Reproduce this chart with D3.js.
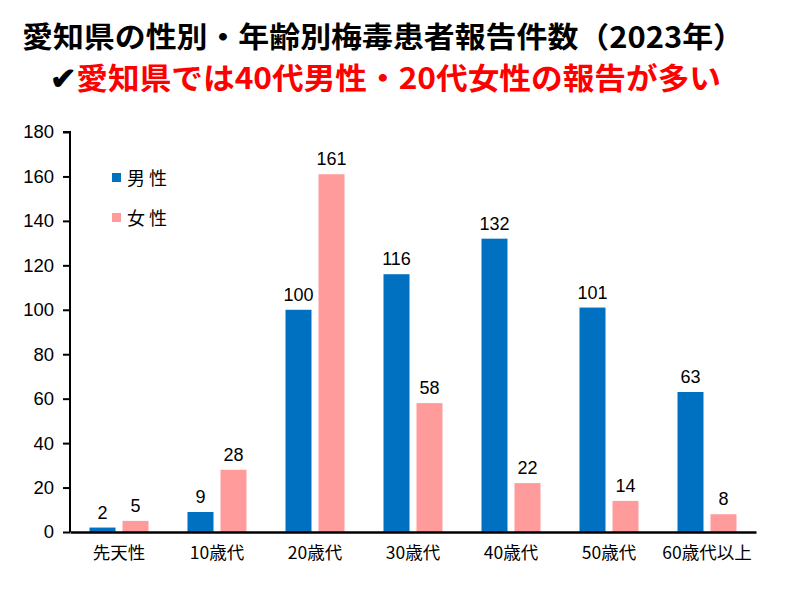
<!DOCTYPE html>
<html><head><meta charset="utf-8">
<script src="https://cdn.jsdelivr.net/npm/d3@7"></script>
<style>body{margin:0;background:#fff}svg{display:block}</style>
</head><body>
<svg id="c" width="791" height="589"></svg>
<script>
const categories = ["先天性","10歳代","20歳代","30歳代","40歳代","50歳代","60歳代以上"];
const male = [2,9,100,116,132,101,63];
const female = [5,28,161,58,22,14,8];
const seriesNames = ["男性","女性"];
const yTicks = [0,20,40,60,80,100,120,140,160,180];

const svg = d3.select("#c");
const font = "'Noto Sans CJK JP', sans-serif";
const numFont = "'Liberation Sans', Arial, sans-serif";
const colors = ["#0070C0","#FF9B9B"];

svg.append("text").attr("x",22).attr("y",48).attr("font-family",font).attr("font-weight","bold")
  .attr("font-size",29).attr("textLength",722).attr("lengthAdjust","spacingAndGlyphs")
  .text("愛知県の性別・年齢別梅毒患者報告件数（2023年）");
const sub = svg.append("text").attr("x",50).attr("y",89).attr("font-family",font).attr("font-weight","bold")
  .attr("font-size",30);
sub.append("tspan").attr("fill","#000").text("✔");
sub.append("tspan").attr("fill","#FF0000").text("愛知県では40代男性・20代女性の報告が多い");
sub.attr("textLength",671).attr("lengthAdjust","spacingAndGlyphs");

const x0 = 70, x1 = 756, yTop = 132, yBot = 532;
const x = d3.scaleBand().domain(categories).range([x0,x1]).paddingInner(0).paddingOuter(0);
const y = d3.scaleLinear().domain([0,180]).range([yBot,yTop]);
const bw = 26, gap = 7;

const g = svg.append("g");
const data = categories.map((c,i)=>({c, v:[male[i],female[i]]}));
data.forEach(d=>{
  d.v.forEach((v,j)=>{
    const cx = x(d.c)+x.bandwidth()/2;
    const bx = j===0 ? cx-gap/2-bw : cx+gap/2;
    g.append("rect").attr("x",bx).attr("y",y(v)).attr("width",bw).attr("height",yBot-y(v)).attr("fill",colors[j]);
    g.append("text").attr("x",bx+bw/2).attr("y",y(v)-9).attr("text-anchor","middle")
      .attr("font-family",numFont).attr("font-size",18).text(v);
  });
});

const ya = svg.append("g").attr("transform",`translate(${x0},0)`)
  .call(d3.axisLeft(y).tickValues(yTicks).tickSize(7).tickPadding(9));
ya.select(".domain").attr("stroke","#000").attr("stroke-width",2).attr("d",`M-7,${yTop}H0V${yBot}`);
ya.selectAll(".tick line").attr("stroke","#000").attr("stroke-width",2);
ya.selectAll(".tick text").attr("font-family",numFont).attr("font-size",18.5).attr("fill","#000");

const xa = svg.append("g").attr("transform",`translate(0,${yBot})`)
  .call(d3.axisBottom(x).tickSize(0).tickPadding(15));
xa.select(".domain").attr("stroke","#000").attr("stroke-width",2.5);
xa.selectAll(".tick text").attr("font-family",font).attr("font-size",17.5).attr("fill","#000");

const leg = svg.append("g");
seriesNames.forEach((n,i)=>{
  leg.append("rect").attr("x",112).attr("y",173+i*40).attr("width",9).attr("height",9).attr("fill",colors[i]);
  leg.append("text").attr("x",127).attr("y",185+i*40).attr("font-family",font).attr("font-size",18)
    .attr("letter-spacing",4).text(n);
});
</script>
</body></html>
